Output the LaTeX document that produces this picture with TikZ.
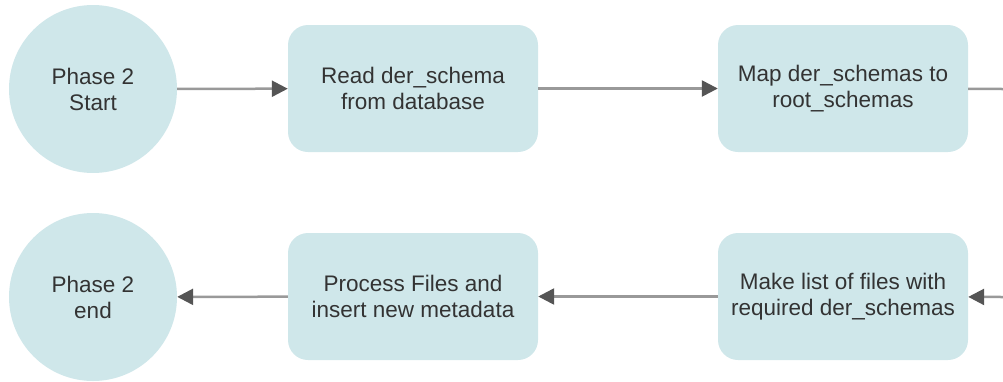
\documentclass[tikz,border=0pt]{standalone}
\usepackage{fontspec}
\setmainfont{Liberation Sans}
\usepackage{xcolor}
\usetikzlibrary{arrows.meta}
\definecolor{paleteal}{RGB}{207,231,234}
\definecolor{inkgray}{RGB}{51,51,51}
\definecolor{wiregray}{RGB}{153,153,153}
\definecolor{tipgray}{RGB}{85,85,85}

\begin{document}
\begin{tikzpicture}[x=1pt,y=-1pt,
    phase/.style={circle, fill=paleteal, minimum size=168pt, inner sep=0pt,
      align=center, text=inkgray, font=\fontsize{22.5}{26}\selectfont},
    task/.style={rounded corners=20pt, fill=paleteal, minimum width=250pt,
      minimum height=127pt, inner sep=0pt, align=center, text=inkgray,
      font=\fontsize{22.5}{26}\selectfont},
    flow/.style={draw=wiregray, line width=2.5pt,
      -{Triangle[length=16pt,width=16pt,color=tipgray]}}]
  \useasboundingbox (0,0) rectangle (1003,381);
  \node[phase] (start) at (93,89) {Phase 2\\Start};
  \node[task] (readder) at (413,88.5) {Read der\_schema\\from database};
  \node[task] (mapder) at (843,88.5) {Map der\_schemas to\\root\_schemas};
  \node[phase] (finish) at (93,297) {Phase 2\\end};
  \node[task] (process) at (413,296.5) {Process Files and\\insert new metadata};
  \node[task] (makelist) at (843,296.5) {Make list of files with\\required der\_schemas};
  \coordinate (outR) at (1003,89);
  \coordinate (inR) at (1003,297);
  \draw[flow] (start) -- (readder);
  \draw[flow] (readder) -- (mapder);
  \draw[draw=wiregray, line width=2.5pt] (mapder) -- (outR);
  \draw[flow] (inR) -- (makelist);
  \draw[flow] (makelist) -- (process);
  \draw[flow] (process) -- (finish);
\end{tikzpicture}
\end{document}
